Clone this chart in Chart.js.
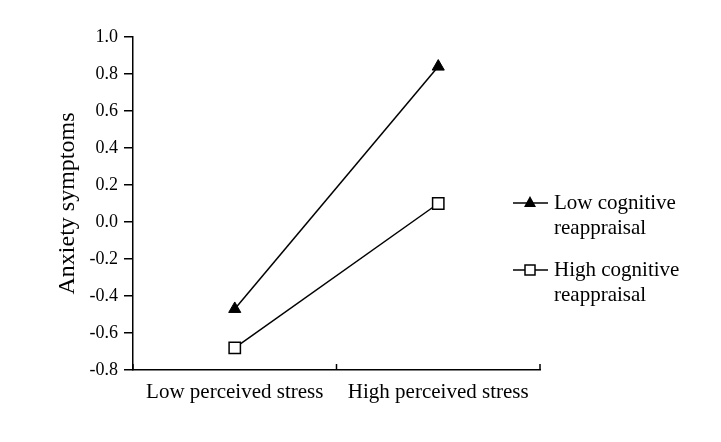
<!DOCTYPE html>
<html>
<head>
<meta charset="utf-8">
<script src="https://cdn.jsdelivr.net/npm/chart.js@4/dist/chart.umd.min.js"></script>
<style>
  html, body { margin: 0; padding: 0; background: #fff; }
  #wrap { width: 721px; height: 442px; position: relative; }
</style>
</head>
<body>
<div id="wrap"><canvas id="stressChart"></canvas></div>
<script>
// data
const categories = ["Low perceived stress", "High perceived stress"];
const lowReappraisal = [-0.47, 0.84];
const highReappraisal = [-0.68, 0.10];
const seriesNames = [["Low cognitive", "reappraisal"], ["High cognitive", "reappraisal"]];
const yTicks = [-0.8, -0.6, -0.4, -0.2, 0.0, 0.2, 0.4, 0.6, 0.8, 1.0];

const serif = "'Liberation Serif', 'Times New Roman', serif";

// x axis ticks point up into the plot, so draw them by hand from the scale
const innerTicks = {
    id: "innerTicks",
    afterDraw(chart) {
        const ctx = chart.ctx;
        const area = chart.chartArea;
        const n = categories.length;
        const step = (area.right - area.left) / n;
        ctx.save();
        ctx.strokeStyle = "#000";
        ctx.lineWidth = 1.5;
        for (let i = 0; i <= n; i++) {
            const x = area.left + i * step;
            ctx.beginPath();
            ctx.moveTo(x, area.bottom);
            ctx.lineTo(x, area.bottom - 6);
            ctx.stroke();
        }
        ctx.restore();
    }
};

// legend on the right, line + marker + two-line label
const sideLegend = {
    id: "sideLegend",
    afterDraw(chart) {
        const ctx = chart.ctx;
        ctx.save();
        chart.data.datasets.forEach(function (ds, i) {
            const y = 203 + i * 67;
            ctx.strokeStyle = "#000";
            ctx.lineWidth = 1.5;
            ctx.beginPath();
            ctx.moveTo(513, y);
            ctx.lineTo(548, y);
            ctx.stroke();

            const cx = 530;
            if (ds.pointStyle === "triangle") {
                ctx.fillStyle = "#000";
                ctx.beginPath();
                ctx.moveTo(cx, y - 7);
                ctx.lineTo(cx + 6, y + 4);
                ctx.lineTo(cx - 6, y + 4);
                ctx.closePath();
                ctx.fill();
            } else {
                ctx.fillStyle = "#fff";
                ctx.fillRect(cx - 5, y - 5, 10, 10);
                ctx.strokeRect(cx - 5, y - 5, 10, 10);
            }

            ctx.fillStyle = "#000";
            ctx.font = "21px " + serif;
            ctx.textAlign = "left";
            ctx.textBaseline = "middle";
            ds.label.forEach(function (line, j) {
                ctx.fillText(line, 554, y + j * 25);
            });
        });
        ctx.restore();
    }
};

new Chart(document.getElementById("stressChart"), {
    type: "line",
    data: {
        labels: categories,
        datasets: [{
            label: seriesNames[0],
            data: lowReappraisal,
            borderColor: "#000",
            borderWidth: 1.5,
            pointStyle: "triangle",
            pointRadius: 7,
            pointBackgroundColor: "#000",
            pointBorderColor: "#000",
            pointBorderWidth: 1
        }, {
            label: seriesNames[1],
            data: highReappraisal,
            borderColor: "#000",
            borderWidth: 1.5,
            pointStyle: "rect",
            pointRadius: 8,
            pointBackgroundColor: "#fff",
            pointBorderColor: "#000",
            pointBorderWidth: 1.5
        }]
    },
    options: {
        responsive: true,
        maintainAspectRatio: false,
        animation: false,
        layout: { padding: { left: 44, right: 181, top: 37, bottom: 0 } },
        plugins: {
            legend: { display: false },
            tooltip: { enabled: false }
        },
        scales: {
            x: {
                offset: true,
                afterFit: function (scale) { scale.height = 72; },
                grid: { display: true, drawOnChartArea: false, drawTicks: false, offset: true },
                border: { display: true, color: "#000", width: 1.5 },
                ticks: { color: "#000", padding: 10, font: { family: serif, size: 21 } }
            },
            y: {
                min: -0.8,
                max: 1.0,
                afterFit: function (scale) { scale.width = 89; },
                afterBuildTicks: function (scale) {
                    scale.ticks = yTicks.map(function (v) { return { value: v }; });
                },
                grid: { drawOnChartArea: false, drawTicks: true, tickLength: 9, color: "#000", lineWidth: 1.5 },
                border: { display: true, color: "#000", width: 1.5 },
                ticks: {
                    color: "#000",
                    padding: 6,
                    font: { family: serif, size: 18 },
                    callback: function (v) { return Number(v).toFixed(1); }
                },
                title: {
                    display: true,
                    text: "Anxiety symptoms",
                    color: "#000",
                    padding: { top: 9, bottom: 0 },
                    font: { family: serif, size: 24 }
                }
            }
        }
    },
    plugins: [innerTicks, sideLegend]
});
</script>
</body>
</html>
